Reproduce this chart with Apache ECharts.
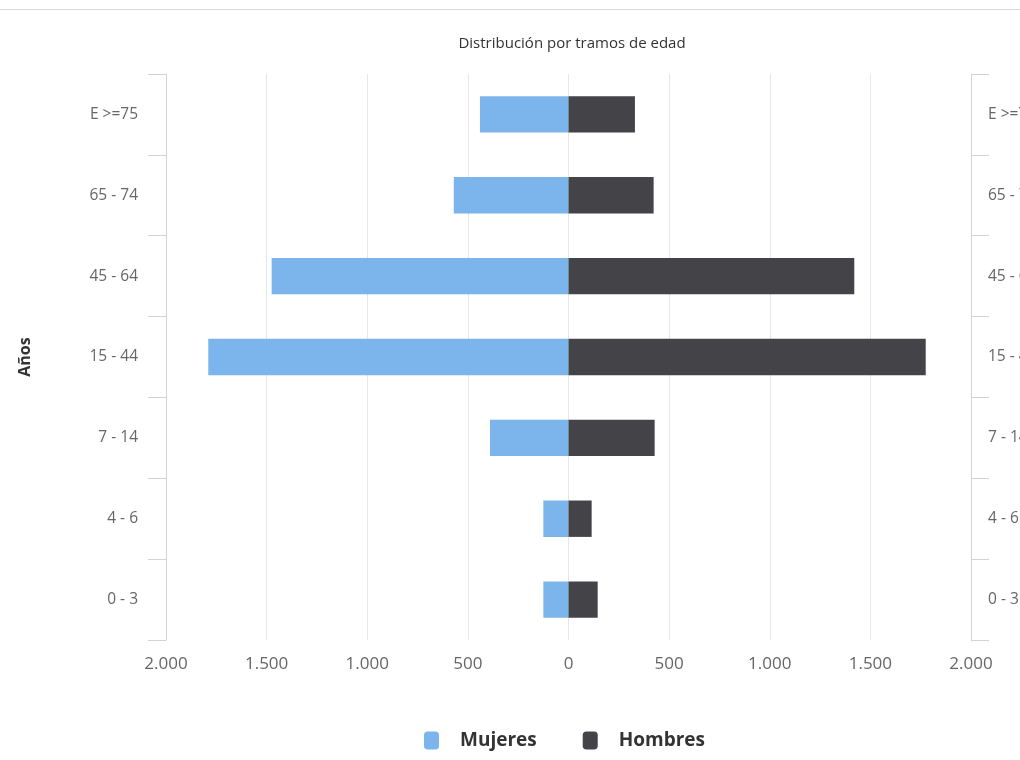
<!DOCTYPE html>
<html>
<head>
<meta charset="utf-8">
<script src="https://cdn.jsdelivr.net/npm/echarts@6/dist/echarts.min.js"></script>
<style>
html,body{margin:0;padding:0;background:#fff;}
#chart{width:1020px;height:760px;}
</style>
</head>
<body>
<div id="chart"></div>
<script>
const categories = ['0 - 3', '4 - 6', '7 - 14', '15 - 44', '45 - 64', '65 - 74', 'E >=75'];
const mujeres = [125, 125, 390, 1790, 1475, 570, 440];
const hombres = [145, 115, 428, 1775, 1420, 423, 330];
const seriesNames = ['Mujeres', 'Hombres'];
const titleText = 'Distribución por tramos de edad';
const axisName = 'Años';

function fmt(v) {
  const a = Math.abs(v);
  return String(a).replace(/\B(?=(\d{3})+(?!\d))/g, '.');
}

const FONT = '"Open Sans", "DejaVu Sans", sans-serif';
const chart = echarts.init(document.getElementById('chart'), null, {renderer: 'canvas'});

const catAxisBase = {
  type: 'category',
  data: categories,
  axisLine: {show: true, onZero: false, lineStyle: {color: '#d3d3d3', width: 1}},
  axisTick: {show: true, length: 18, lineStyle: {color: '#d3d3d3'}},
  splitLine: {show: false}
};

chart.setOption({
  animation: false,
  backgroundColor: '#fff',
  graphic: [{
    type: 'rect',
    shape: {x: 0, y: 9, width: 1020, height: 1},
    style: {fill: '#d8d8d8'}
  }],
  title: {
    text: titleText,
    left: 567, top: 31,
    textAlign: 'center',
    textStyle: {fontSize: 15, fontWeight: 'normal', color: '#333', fontFamily: FONT}
  },
  legend: {
    data: seriesNames,
    left: 419, top: 726,
    icon: 'roundRect',
    itemWidth: 15, itemHeight: 18,
    itemGap: 46,
    textStyle: {fontSize: 19, fontWeight: 'bold', color: '#333', fontFamily: FONT, padding: [0, 0, 0, 16]}
  },
  grid: {left: 166, right: 49, top: 74, bottom: 120, containLabel: false, outerBoundsMode: 'none'},
  xAxis: {
    type: 'value',
    min: -2000, max: 2000, interval: 500,
    axisLine: {show: false},
    axisTick: {show: false},
    splitLine: {show: true, lineStyle: {color: '#e6e6e6', width: 1}},
    axisLabel: {color: '#666', fontSize: 17, fontFamily: FONT, margin: 16, formatter: fmt}
  },
  yAxis: [
    Object.assign({}, catAxisBase, {
      position: 'left',
      name: axisName,
      nameLocation: 'middle',
      nameGap: 133,
      nameRotate: 90,
      nameTextStyle: {fontSize: 16, fontWeight: 'bold', color: '#333', fontFamily: FONT},
      axisLabel: {color: '#666', fontSize: 15.5, fontFamily: FONT, margin: 28}
    }),
    Object.assign({}, catAxisBase, {
      position: 'right',
      axisLabel: {color: '#666', fontSize: 15.5, fontFamily: FONT, margin: 17}
    })
  ],
  series: [
    {
      name: seriesNames[0],
      type: 'bar',
      stack: 'total',
      yAxisIndex: 0,
      barWidth: '45%',
      itemStyle: {color: '#7cb5ec'},
      data: mujeres.map(v => -v)
    },
    {
      name: seriesNames[1],
      type: 'bar',
      stack: 'total',
      yAxisIndex: 0,
      barWidth: '45%',
      itemStyle: {color: '#434348'},
      data: hombres
    }
  ]
});
</script>
</body>
</html>
